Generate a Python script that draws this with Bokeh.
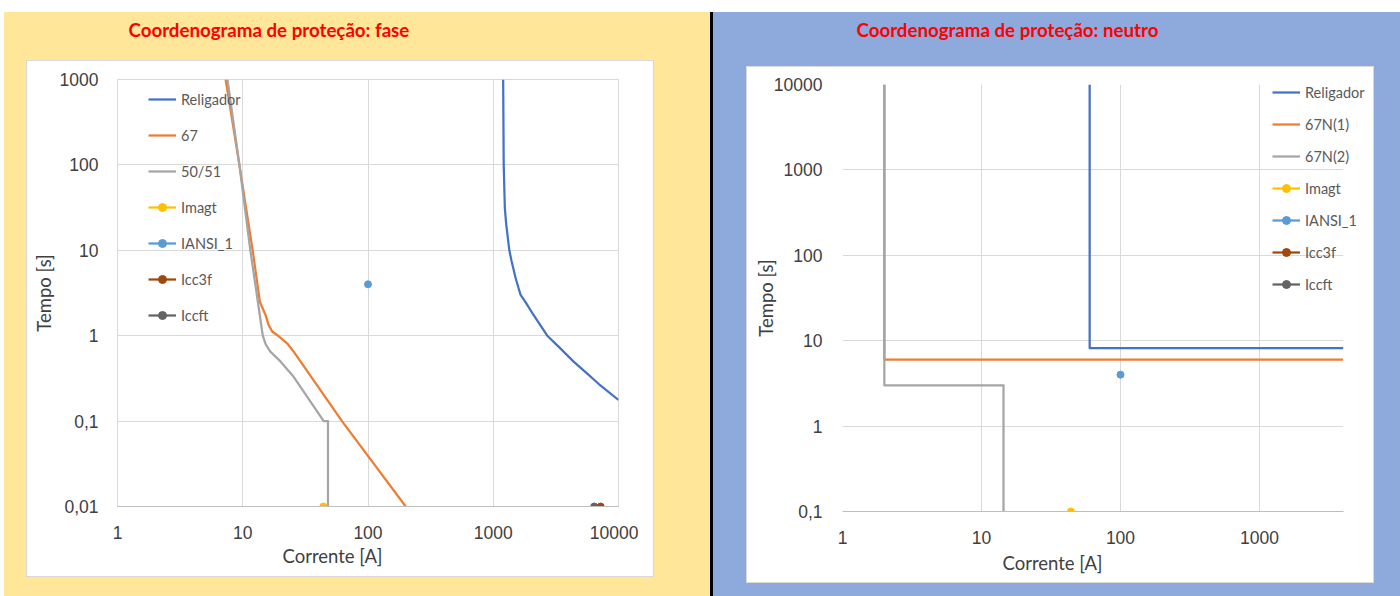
from bokeh.plotting import figure
from bokeh.models import (Range1d, FixedTicker, CustomJSTickFormatter, Title,
                          Legend, LegendItem, BoxAnnotation)
from bokeh.layouts import row
from bokeh.embed import file_html
from bokeh.resources import INLINE

# ---------------- data: fase ----------------
fase_x_ticks = [1, 10, 100, 1000, 10000]
fase_x_labels = ["1", "10", "100", "1000", "10000"]
fase_y_ticks = [0.01, 0.1, 1, 10, 100, 1000]
fase_y_labels = ["0,01", "0,1", "1", "10", "100", "1000"]

fase_religador_I = [1200, 1212, 1225, 1238, 1270, 1344, 1400, 1510, 1653, 1800, 2090, 2700, 3400, 4360, 5400, 7000, 10000]
fase_religador_t = [1000, 100, 55, 31, 20, 10, 7.5, 4.7, 3.0, 2.5, 1.76, 1.0, 0.72, 0.5, 0.38, 0.27, 0.177]

fase_67_I = [7.3, 9.4, 12.0, 13.7, 15.2, 16.1, 17.2, 18.8, 22.7, 25.5, 62, 200]
fase_67_t = [1000, 100, 10, 2.5, 1.75, 1.33, 1.12, 1.02, 0.81, 0.65, 0.1, 0.01]

fase_5051_I = [7.55, 9.4, 11.5, 13.2, 14.45, 15.2, 16.6, 20.0, 25.5, 44.3, 47.9, 47.9]
fase_5051_t = [1000, 100, 10, 2.5, 1.0, 0.8, 0.65, 0.50, 0.33, 0.1, 0.1, 0.01]

fase_imagt = (44, 0.01)
fase_iansi = (100, 4.0)
fase_icc3f = (7200, 0.01)
fase_iccft = (6400, 0.01)

# ---------------- data: neutro ----------------
neutro_x_ticks = [1, 10, 100, 1000]
neutro_x_labels = ["1", "10", "100", "1000"]
neutro_y_ticks = [0.1, 1, 10, 100, 1000, 10000]
neutro_y_labels = ["0,1", "1", "10", "100", "1000", "10000"]
neutro_x_end = 4000          # right end of the neutro plot area (axis maximum)

neutro_religador_I = [60, 60, 4000]
neutro_religador_t = [10000, 8.2, 8.2]
neutro_67n1_I = [2, 2, 4000]
neutro_67n1_t = [10000, 6, 6]
neutro_67n2_I = [2, 2, 14.4, 14.4]
neutro_67n2_t = [10000, 3, 3, 0.1]

neutro_imagt = (44, 0.1)
neutro_iansi = (100, 4.0)
neutro_icc3f = (7200, 0.1)
neutro_iccft = (6400, 0.1)

C_REL = "#4472C4"
C_67 = "#ED7D31"
C_5051 = "#A5A5A5"
C_IMAGT = "#FFC000"
C_IANSI = "#5B9BD5"
C_ICC3F = "#9E480E"
C_ICCFT = "#636363"

YELLOW = "#FFE699"
BLUE = "#8EA9DB"
TXT = "#404040"

fmt = CustomJSTickFormatter(code="return tick.toString().replace('.', ',');")


def make_fig(xr, yr, xt, xl, yt, yl, fw, fl, fr):
    p = figure(x_axis_type="log", y_axis_type="log",
               x_range=Range1d(*xr), y_range=Range1d(*yr),
               frame_width=fw, frame_height=427,
               min_border_left=fl, min_border_right=fr,
               min_border_top=70, min_border_bottom=75,
               output_backend="svg", toolbar_location=None,
               border_fill_color=None, background_fill_color="white",
               outline_line_color="#D9D9D9")
    p.xaxis.ticker = FixedTicker(ticks=xt)
    p.yaxis.ticker = FixedTicker(ticks=yt)
    p.xaxis.major_label_overrides = dict(zip(xt, xl))
    p.yaxis.major_label_overrides = dict(zip(yt, yl))
    for ax in (p.xaxis, p.yaxis):
        ax.formatter = fmt
        ax.major_tick_line_color = None
        ax.minor_tick_line_color = None
        ax.major_tick_out = 0
        ax.major_tick_in = 0
        ax.major_label_text_font = "Liberation Sans"
        ax.major_label_text_font_size = "17.5px"
        ax.major_label_text_color = TXT
    p.xaxis.axis_line_color = "#BFBFBF"
    p.yaxis.axis_line_color = None
    p.xaxis.major_label_standoff = 19
    p.yaxis.axis_label = "Tempo [s]"
    p.yaxis.axis_label_text_font = "Lato"
    p.yaxis.axis_label_text_font_size = "18.5px"
    p.yaxis.axis_label_text_font_style = "normal"
    p.yaxis.axis_label_text_color = TXT
    p.xgrid.grid_line_color = "#D9D9D9"
    p.ygrid.grid_line_color = "#D9D9D9"
    return p


def add_titles(p, title, spacer, toff, xoff, xstand):
    # empty spacer between frame and the chart title
    p.add_layout(Title(text=" ", text_font_size="1px", standoff=spacer), "above")
    p.add_layout(Title(text=title, align="left", offset=toff, standoff=0,
                       vertical_align="bottom", text_font="Lato", text_font_size="18.7px",
                       text_font_style="bold", text_color="#FF0000"), "above")
    p.add_layout(Title(text="Corrente [A]", align="left", offset=xoff, standoff=xstand,
                       vertical_align="top", text_font="Lato", text_font_size="18.5px",
                       text_font_style="normal", text_color=TXT), "below")


def add_series(p, series):
    items = []
    for name, xs, ys, color, kind in series:
        if kind == "line":
            r = p.line(xs, ys, line_color=color, line_width=2.25, line_join="round")
            items.append(LegendItem(label=name, renderers=[r]))
        else:
            r1 = p.line([xs], [ys], line_color=color, line_width=2.25)
            r2 = p.scatter([xs], [ys], size=7, fill_color=color, line_color=color)
            items.append(LegendItem(label=name, renderers=[r1, r2]))
    return items


def make_legend(items, loc, spacing):
    return Legend(items=items, location=loc, orientation="vertical",
                  glyph_width=28, glyph_height=20, label_height=20, label_standoff=5,
                  spacing=spacing, padding=0, margin=0, border_line_color=None,
                  background_fill_alpha=0, label_text_font="Lato",
                  label_text_font_size="14.5px", label_text_color="#595959")


# ---------------- left panel: fase ----------------
p1 = make_fig((1, 10000), (0.01, 1000), fase_x_ticks, fase_x_labels, fase_y_ticks, fase_y_labels,
              501, 100, 20)
p1.yaxis.major_label_standoff = 19
p1.yaxis.axis_label_standoff = 2
items1 = add_series(p1, [
    ("Religador", fase_religador_I, fase_religador_t, C_REL, "line"),
    ("67", fase_67_I, fase_67_t, C_67, "line"),
    ("50/51", fase_5051_I, fase_5051_t, C_5051, "line"),
    ("Imagt", fase_imagt[0], fase_imagt[1], C_IMAGT, "pt"),
    ("IANSI_1", fase_iansi[0], fase_iansi[1], C_IANSI, "pt"),
    ("Icc3f", fase_icc3f[0], fase_icc3f[1], C_ICC3F, "pt"),
    ("Iccft", fase_iccft[0], fase_iccft[1], C_ICCFT, "pt"),
])
add_titles(p1, "Coordenograma de proteção: fase", 36, 11, 165, 7)
p1.add_layout(make_legend(items1, (31, 181), 16))
p1.margin = (9, 0, 15, 17)

# ---------------- right panel: neutro ----------------
# frame is a little wider than the plot area so that the legend fits;
# the part right of neutro_x_end is blanked and carries no axis line
fw2 = 524
x_end_view = 10 ** (fw2 * 3.6 / 500.4)
p2 = make_fig((1, x_end_view), (0.1, 10000), neutro_x_ticks, neutro_x_labels, neutro_y_ticks, neutro_y_labels,
              fw2, 110, 20)
p2.outline_line_color = None
p2.xaxis.bounds = (1, neutro_x_end)
p2.add_layout(BoxAnnotation(left=neutro_x_end, fill_color="white", fill_alpha=1,
                            line_color=None, level="underlay"))
p2.yaxis.major_label_standoff = 20
p2.yaxis.axis_label_standoff = -6
items2 = add_series(p2, [
    ("Religador", neutro_religador_I, neutro_religador_t, C_REL, "line"),
    ("67N(1)", neutro_67n1_I, neutro_67n1_t, C_67, "line"),
    ("67N(2)", neutro_67n2_I, neutro_67n2_t, C_5051, "line"),
    ("Imagt", neutro_imagt[0], neutro_imagt[1], C_IMAGT, "pt"),
    ("IANSI_1", neutro_iansi[0], neutro_iansi[1], C_IANSI, "pt"),
    ("Icc3f", neutro_icc3f[0], neutro_icc3f[1], C_ICC3F, "pt"),
    ("Iccft", neutro_iccft[0], neutro_iccft[1], C_ICCFT, "pt"),
])
add_titles(p2, "Coordenograma de proteção: neutro", 41, 14, 160, 10)
p2.add_layout(make_legend(items2, (430, 217), 12))
p2.margin = (14, 14, 10, 94)

# page background: panels, divider and white chart boxes
layers = [
    ("#FFFFFF", 27, 61, 626, 515),
    ("#D9D9D9", 26, 60, 628, 517),
    ("#FFFFFF", 747, 67, 626, 515),
    ("#D9D9D9", 746, 66, 628, 517),
    (YELLOW, 4, 12, 706, 584),
    ("#000000", 710, 12, 3, 584),
    (BLUE, 713, 12, 687, 584),
]
bg = {
    "background-color": "#FFFFFF",
    "background-image": ", ".join(f"linear-gradient({c}, {c})" for c, *_ in layers),
    "background-position": ", ".join(f"{x}px {y}px" for _, x, y, w, h in layers),
    "background-size": ", ".join(f"{w}px {h}px" for _, x, y, w, h in layers),
    "background-repeat": "no-repeat",
}

layout = row(p1, p2, styles=bg)
open("out.html", "w").write(file_html(layout, INLINE))
